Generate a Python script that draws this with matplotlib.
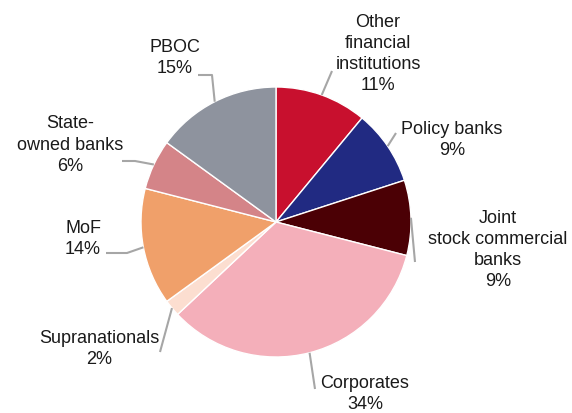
import numpy as np
import matplotlib.pyplot as plt

plt.rcParams['font.family'] = ['Liberation Sans', 'DejaVu Sans']

labels = ['Other\nfinancial\ninstitutions', 'Policy banks', 'Joint\nstock commercial\nbanks',
          'Corporates', 'Supranationals', 'MoF', 'State-\nowned banks', 'PBOC']
shares = [11, 9, 9, 34, 2, 14, 6, 15]
colors = ['#C8102E', '#212A82', '#4B0005', '#F4AFBA', '#FCDED0', '#F0A06A', '#D48488', '#8E939E']

W, H = 572, 414
cx, cy, R = 276, 223, 135

# label centre (px) and leader path after the wedge point (px)
text_pos = [(378, 54), (452, 140), (498, 250), (365, 394), (99, 349), (83, 239), (70, 145), (175, 58)]
leaders = [[(332, 72)], [(396, 134)], [(415, 263)], [(315, 390)], [(160, 353)],
           [(127, 254), (106, 254)], [(135, 162), (122, 162)], [(212, 76), (198, 76)]]

fig = plt.figure(figsize=(W / 100, H / 100), dpi=100)
ax = fig.add_axes([0, 0, 1, 1])

wedges, _ = ax.pie(shares, colors=colors, startangle=90, counterclock=False,
                   center=(cx, H - cy), radius=R,
                   wedgeprops=dict(edgecolor='white', linewidth=1))
ax.set_xlim(0, W)
ax.set_ylim(0, H)
ax.set_aspect('equal')
ax.axis('off')

for w, lab, s, (tx, ty), path in zip(wedges, labels, shares, text_pos, leaders):
    mid = np.deg2rad((w.theta1 + w.theta2) / 2)
    x0 = cx + R * np.cos(mid)
    y0 = (H - cy) + R * np.sin(mid)
    xs = [x0] + [p[0] for p in path]
    ys = [y0] + [H - p[1] for p in path]
    ax.plot(xs, ys, color='#A6A6A6', lw=1.5, solid_capstyle='butt')
    ax.text(tx, H - ty, f'{lab}\n{s}%', ha='center', va='center', fontsize=13,
            color='#1A1A1A', linespacing=1.32)

fig.savefig('out.png', dpi=100)
